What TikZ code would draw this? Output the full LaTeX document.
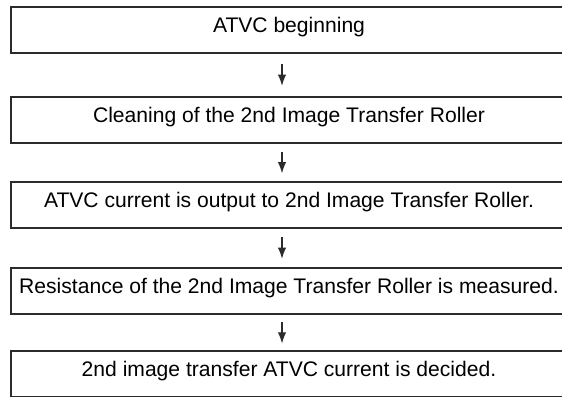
\documentclass[tikz,border=0pt]{standalone}
\usepackage{fontspec}
\setmainfont{Liberation Sans}
\usepackage{tikz}
\usetikzlibrary{arrows.meta,calc,positioning}
\definecolor{stepline}{HTML}{2B2B2B}

\begin{document}
\begin{tikzpicture}[
  stepbox/.style={draw=stepline, line width=1.3pt, fill=white, inner sep=0pt,
                  minimum width=13.9cm, text height=0.625cm, text depth=0.525cm,
                  align=center, font=\fontsize{15pt}{18pt}\selectfont},
  arrow/.style={-{Latex[length=2.8mm,width=2.1mm]}, line width=0.8pt, draw=stepline},
]
  \useasboundingbox (0,0) rectangle (14.05,-9.925);
  \clip (0,0) rectangle (14.05,-9.925);

  % ATVC sequence, boxes run off the right edge
  \node[stepbox] (begin) at (7.225,-0.75) {ATVC beginning};
  \node[stepbox] (clean) at (7.225,-3.0) {Cleaning of the 2nd Image Transfer Roller};
  \node[stepbox] (output) at (7.225,-5.125)
    {ATVC current is output to 2nd Image Transfer Roller.};
  \node[stepbox] (measure) at (7.225,-7.275)
    {Resistance of the 2nd Image Transfer Roller is measured.};
  \node[stepbox] (decide) at (7.225,-9.36)
    {2nd image transfer ATVC current is decided.};

  % short arrows in the gaps
  \coordinate (gap-1) at ($(begin.south)!0.5!(clean.north)$);
  \coordinate (gap-2) at ($(clean.south)!0.5!(output.north)$);
  \coordinate (gap-3) at ($(output.south)!0.5!(measure.north)$);
  \coordinate (gap-4) at ($(measure.south)!0.5!(decide.north)$);
  \draw[arrow] ([xshift=-0.175cm,yshift=0.27cm]gap-1) -- ([xshift=-0.175cm,yshift=-0.27cm]gap-1);
  \draw[arrow] ([xshift=-0.175cm,yshift=0.27cm]gap-2) -- ([xshift=-0.175cm,yshift=-0.27cm]gap-2);
  \draw[arrow] ([xshift=-0.175cm,yshift=0.27cm]gap-3) -- ([xshift=-0.175cm,yshift=-0.27cm]gap-3);
  \draw[arrow] ([xshift=-0.175cm,yshift=0.27cm]gap-4) -- ([xshift=-0.175cm,yshift=-0.27cm]gap-4);
\end{tikzpicture}
\end{document}
